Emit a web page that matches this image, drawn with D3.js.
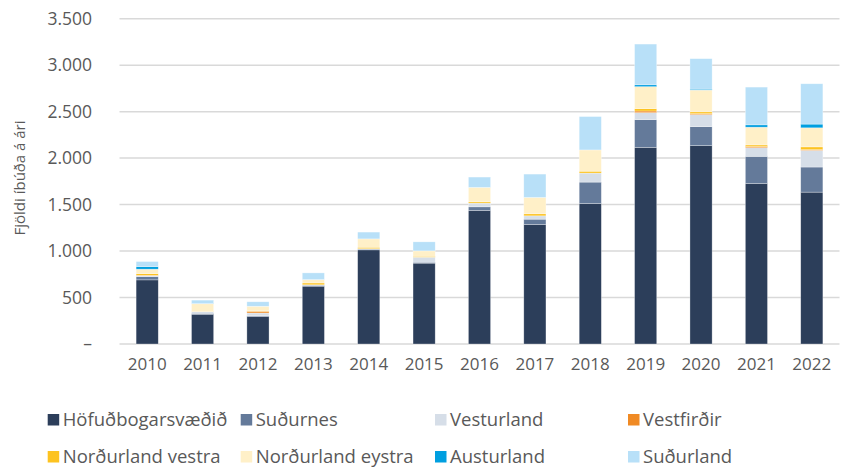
<!DOCTYPE html>
<html>
<head>
<meta charset="utf-8">
<script src="https://cdn.jsdelivr.net/npm/d3@7"></script>
<style>
  body { margin: 0; background: #fff; }
  text { font-family: "Open Sans", "Noto Sans", sans-serif; fill: #595959; }
</style>
</head>
<body>
<div id="chart"></div>
<script>
const years = ['2010', '2011', '2012', '2013', '2014', '2015', '2016', '2017', '2018', '2019', '2020', '2021', '2022'];
const regions = ['Höfuðbogarsvæðið', 'Suðurnes', 'Vesturland', 'Vestfirðir', 'Norðurland vestra', 'Norðurland eystra', 'Austurland', 'Suðurland'];

// íbúðir per region, one value per year
const hofud      = [690, 320, 294, 622, 1013, 870, 1437, 1286, 1512, 2116, 2134, 1728, 1634];
const sudurnes   = [35, 10, 10, 10, 8, 10, 39, 57, 230, 298, 204, 291, 270];
const vesturland = [10, 18, 30, 5, 5, 54, 40, 36, 97, 75, 130, 93, 179];
const vestfirdir = [4, 0, 18, 0, 0, 0, 0, 0, 0, 18, 10, 12, 8];
const nlVestra   = [18, 3, 4, 20, 15, 10, 14, 22, 20, 25, 20, 18, 30];
const nlEystra   = [48, 82, 50, 36, 90, 58, 155, 176, 229, 237, 234, 191, 205];
const austurland = [27, 2, 0, 0, 0, 0, 0, 0, 0, 20, 10, 25, 40];
const sudurland  = [55, 37, 48, 72, 73, 97, 111, 251, 359, 438, 328, 406, 434];

const yTicks = [0, 500, 1000, 1500, 2000, 2500, 3000, 3500];
const colors = ['#2c3e5a', '#647a9a', '#d6dee8', '#f08a24', '#fdc320', '#fff0c8', '#009fe0', '#b8e0f8'];

const series = [hofud, sudurnes, vesturland, vestfirdir, nlVestra, nlEystra, austurland, sudurland];
const table = years.map((y, i) => {
  const row = { year: y };
  regions.forEach((r, j) => { row[r] = series[j][i]; });
  return row;
});

const width = 843, height = 470;
const svg = d3.select('#chart').append('svg')
  .attr('width', width).attr('height', height);

const x = d3.scaleBand().domain(years).range([119.5, 839.5])
  .paddingInner(0.6).paddingOuter(0.3);
const y = d3.scaleLinear().domain([0, 3500]).range([344, 18.7]);

// gridlines
svg.append('g').selectAll('line').data(yTicks).enter().append('line')
  .attr('x1', 119.5).attr('x2', 839.5)
  .attr('y1', d => y(d)).attr('y2', d => y(d))
  .attr('stroke', '#d9d9d9').attr('stroke-width', 1.5);

// stacked bars
const stacked = d3.stack().keys(regions)(table);
svg.append('g').selectAll('g').data(stacked).enter().append('g')
  .attr('fill', (d, i) => colors[i])
  .selectAll('rect').data(d => d).enter().append('rect')
  .attr('x', d => x(d.data.year))
  .attr('width', x.bandwidth())
  .attr('y', d => y(d[1]))
  .attr('height', d => Math.max(0, y(d[0]) - y(d[1])))
  .attr('stroke', '#ffffff').attr('stroke-opacity', 0.5).attr('stroke-width', 0.6);

// y axis
const yAxis = svg.append('g')
  .attr('transform', 'translate(92,0)')
  .call(d3.axisLeft(y).tickValues(yTicks).tickSize(0).tickPadding(0)
    .tickFormat(d => d === 0 ? '–' : d3.format(',')(d).replace(/,/g, '.')));
yAxis.select('.domain').remove();
yAxis.selectAll('text').style('font-size', '17.5px').attr('fill', '#595959');

// x axis
const xAxis = svg.append('g')
  .attr('transform', 'translate(0,344)')
  .call(d3.axisBottom(x).tickSize(0).tickPadding(14));
xAxis.select('.domain').remove();
xAxis.selectAll('text').style('font-size', '17px').attr('fill', '#595959');

// y title
svg.append('text')
  .attr('transform', 'translate(25,178) rotate(-90)')
  .attr('text-anchor', 'middle')
  .style('font-size', '15px')
  .text('Fjöldi íbúða á ári');

// legend
const legX = [47.7, 240.7, 435, 628];
const legY = [414, 451];
const legend = svg.append('g').selectAll('g').data(regions).enter().append('g')
  .attr('transform', (d, i) => `translate(${legX[i % 4]},${legY[Math.floor(i / 4)]})`);
legend.append('rect')
  .attr('width', 11.5).attr('height', 11.5)
  .attr('fill', (d, i) => colors[i]);
legend.append('text')
  .attr('x', 15).attr('y', 12)
  .style('font-size', '18.5px')
  .text(d => d);
</script>
</body>
</html>
